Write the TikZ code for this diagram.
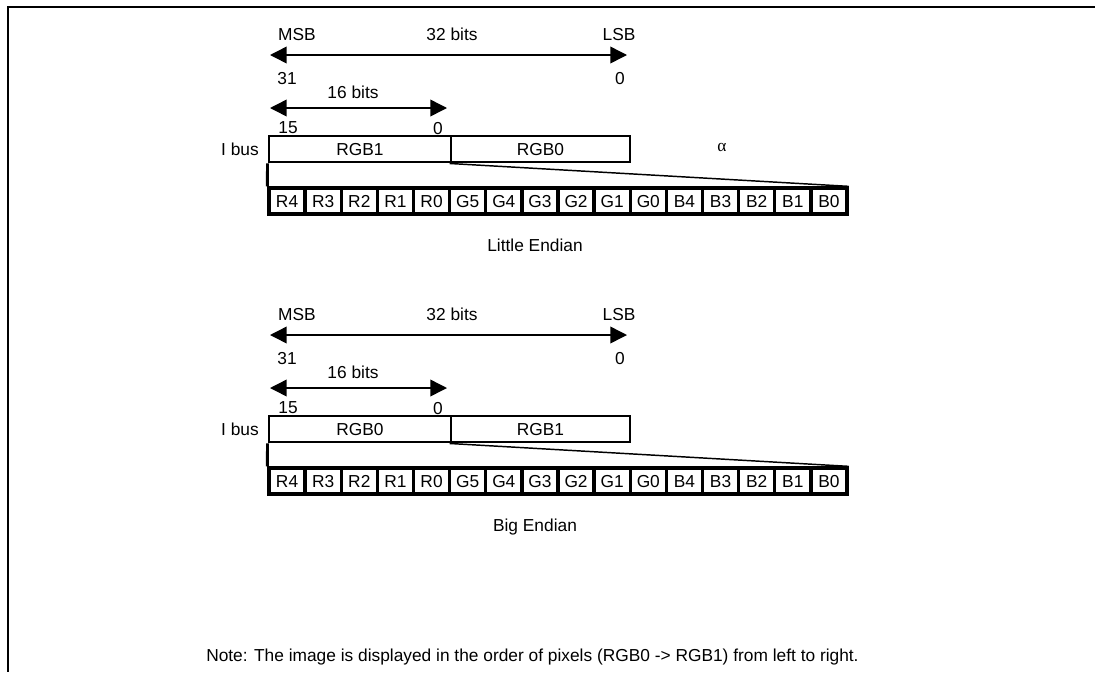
\documentclass[tikz,border=0pt]{standalone}
\usepackage{fontspec}
\setmainfont{Liberation Sans}
\newfontfamily\greekfont{Liberation Serif}
\usetikzlibrary{arrows.meta}

\tikzset{
  txt/.style={inner sep=0pt, text height=9.4pt, text depth=0pt,
    font=\fontsize{13}{15}\selectfont},
  busbox/.style={draw, line width=2.2pt, minimum height=19.5pt, inner sep=0pt,
    text height=9.4pt, text depth=0pt, font=\fontsize{13}{15}\selectfont},
  bitbox/.style={draw, line width=2.5pt, minimum width=27.1pt, minimum height=19.5pt,
    inner sep=0pt, text height=9.4pt, text depth=0pt, font=\fontsize{13}{15}\selectfont},
  span/.style={line width=1.1pt,
    {Triangle[length=12.5pt,width=12.5pt]}-{Triangle[length=12.5pt,width=12.5pt]}}
}

\begin{document}
\begin{tikzpicture}[
  x=0.75pt, y=-0.75pt,
  line join=miter
]
  \useasboundingbox (0,0) rectangle (1095,672);

  % Frame
  \draw[line width=2.2pt] (1095,7) -- (8,7) -- (8,672);

  % Little Endian
  \begin{scope}
    \coordinate (wA31) at (270,55);
    \coordinate (wA0)  at (627,55);
    \coordinate (hA15) at (270,108);
    \coordinate (hA0)  at (447,108);

    \node[txt] (msbA)  at (297,34) {MSB};
    \node[txt] (bitsA) at (452,34) {32 bits};
    \node[txt] (lsbA)  at (619,34) {LSB};
    \draw[span] (wA31) -- (wA0);
    \node[txt] (t31A) at (287,78) {31};
    \node[txt] (t0A)  at (620,78) {0};

    \node[txt] (halfA) at (353,92) {16 bits};
    \draw[span] (hA15) -- (hA0);
    \node[txt] (t15A) at (288,127) {15};
    \node[txt] (u0A)  at (438,128) {0};

    % I bus
    \node[txt, anchor=east] (busA) at (259,149) {I bus};
    \node[busbox, minimum width=136.5pt] (hiA) at (360,149) {RGB1};
    \node[busbox, minimum width=134.25pt] (loA) at (540.5,149) {RGB0};
    \node[txt] (alpha) at (722,145) {\greekfont α};

    % Bits
    \foreach \t [count=\i from 0] in {R4,R3,R2,R1,R0,G5,G4,G3,G2,G1,G0,B4,B3,B2,B1,B0}
      \node[bitbox] (cA\i) at ({269+36.125*(\i+0.5)},201) {\t};

    \draw[line width=2.2pt] (hiA.south west) -- (cA0.north west);
    \draw[line width=1.1pt] (loA.south west) -- (cA15.north east);

    \node[txt] (capA) at (535,245) {Little Endian};
  \end{scope}

  % Big Endian
  \begin{scope}[shift={(0,280)}]
    \coordinate (wB31) at (270,55);
    \coordinate (wB0)  at (627,55);
    \coordinate (hB15) at (270,108);
    \coordinate (hB0)  at (447,108);

    \node[txt] (msbB)  at (297,34) {MSB};
    \node[txt] (bitsB) at (452,34) {32 bits};
    \node[txt] (lsbB)  at (619,34) {LSB};
    \draw[span] (wB31) -- (wB0);
    \node[txt] (t31B) at (287,78) {31};
    \node[txt] (t0B)  at (620,78) {0};

    \node[txt] (halfB) at (353,92) {16 bits};
    \draw[span] (hB15) -- (hB0);
    \node[txt] (t15B) at (288,127) {15};
    \node[txt] (u0B)  at (438,128) {0};

    % I bus
    \node[txt, anchor=east] (busB) at (259,149) {I bus};
    \node[busbox, minimum width=136.5pt] (hiB) at (360,149) {RGB0};
    \node[busbox, minimum width=134.25pt] (loB) at (540.5,149) {RGB1};

    % Bits
    \foreach \t [count=\i from 0] in {R4,R3,R2,R1,R0,G5,G4,G3,G2,G1,G0,B4,B3,B2,B1,B0}
      \node[bitbox] (cB\i) at ({269+36.125*(\i+0.5)},201) {\t};

    \draw[line width=2.2pt] (hiB.south west) -- (cB0.north west);
    \draw[line width=1.1pt] (loB.south west) -- (cB15.north east);

    \node[txt] (capB) at (535,245) {Big Endian};
  \end{scope}

  \node[txt, anchor=west] (note) at (206,655)
    {Note: The image is displayed in the order of pixels (RGB0 -> RGB1) from left to right.};
\end{tikzpicture}
\end{document}
